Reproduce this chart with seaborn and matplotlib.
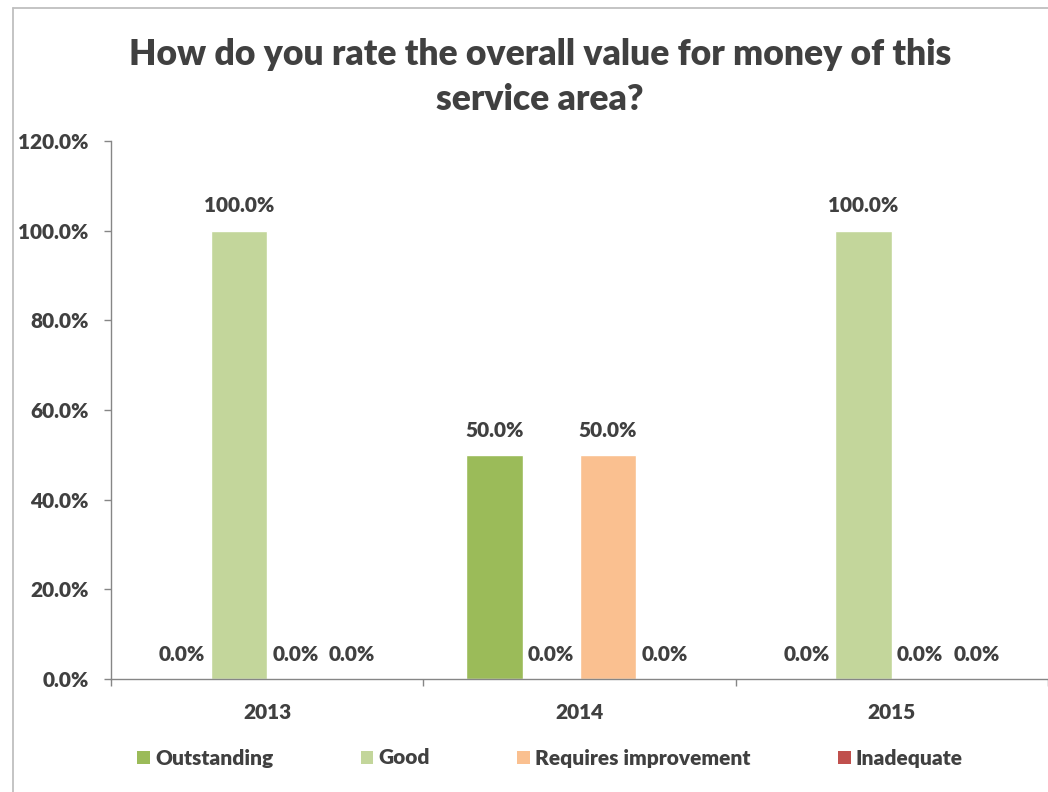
import matplotlib
matplotlib.use("Agg")
import matplotlib.pyplot as plt
from matplotlib.patches import Patch
from matplotlib.ticker import FixedLocator
from matplotlib.lines import Line2D
import pandas as pd
import seaborn as sns

# Survey results per year (percent of respondents)
years = ["2013", "2014", "2015"]
ratings = ["Outstanding", "Good", "Requires improvement", "Inadequate"]
outstanding = [0.0, 50.0, 0.0]
good = [100.0, 0.0, 100.0]
requires_improvement = [0.0, 50.0, 0.0]
inadequate = [0.0, 0.0, 0.0]
y_ticks = [0, 20, 40, 60, 80, 100, 120]

colors = ["#9BBB59", "#C3D69B", "#FAC090", "#C0504D"]
text_color = "#404040"
axis_color = "#868686"
WEIGHT = "heavy"
FS = 15

sns.set_theme(style="white")
plt.rcParams["font.family"] = ["Lato", "DejaVu Sans"]
plt.rcParams["font.weight"] = WEIGHT

series = [outstanding, good, requires_improvement, inadequate]
df = pd.DataFrame(
    [(y, r, vals[i]) for r, vals in zip(ratings, series) for i, y in enumerate(years)],
    columns=["year", "rating", "value"],
)

W, H = 1048, 792
fig = plt.figure(figsize=(W / 100, H / 100), dpi=100)
ax = fig.add_axes([111 / W, 1 - 679 / H, (W - 111) / W, (679 - 141) / H])

sns.barplot(
    data=df, x="year", y="value", hue="rating", hue_order=ratings, order=years,
    palette=colors, width=0.725, gap=0, saturation=1, ax=ax, legend=False,
    errorbar=None,
)

for cont in ax.containers:
    vals = [b.get_height() for b in cont]
    ax.bar_label(cont, labels=[f"{v:.1f}%" for v in vals], padding=11,
                 fontsize=FS, fontweight=WEIGHT, color=text_color)

ax.set_xlim(-0.5, 2.5)
ax.set_ylim(0, 120)
ax.set_yticks(y_ticks)
ax.set_yticklabels([f"{v:.1f}%" for v in y_ticks])
ax.set_xlabel("")
ax.set_ylabel("")

for s in ["top", "right"]:
    ax.spines[s].set_visible(False)
for s in ["left", "bottom"]:
    ax.spines[s].set_color(axis_color)
    ax.spines[s].set_linewidth(1.0)

ax.tick_params(axis="y", direction="out", length=5, width=1.0, color=axis_color,
               pad=11, labelsize=FS, labelcolor=text_color, left=True)
ax.tick_params(axis="x", which="major", length=0, pad=17, labelsize=FS,
               labelcolor=text_color, bottom=True)
ax.xaxis.set_minor_locator(FixedLocator([-0.5, 0.5, 1.5, 2.5]))
ax.tick_params(axis="x", which="minor", direction="out", length=5, width=1.0,
               color=axis_color, bottom=True)
for lbl in ax.get_xticklabels() + ax.get_yticklabels():
    lbl.set_fontweight(WEIGHT)

fig.text(540 / W, 1 - 77 / H,
         "How do you rate the overall value for money of this\nservice area?",
         ha="center", va="center", fontsize=25.6, fontweight=WEIGHT,
         color=text_color, linespacing=1.45)

handles = [Patch(facecolor=c, edgecolor="none") for c in colors]
fig.legend(handles, ratings, loc="center", bbox_to_anchor=(550 / W, 1 - 758 / H),
           ncol=4, frameon=False, handlelength=0.6,
           handleheight=0.6, handletextpad=0.25, columnspacing=4.2,
           prop={"weight": WEIGHT, "size": FS})
for t in fig.legends[0].get_texts():
    t.set_color(text_color)

# Chart frame
frame_color = "#BFBFBF"
fig.add_artist(Line2D([12.5 / W, 12.5 / W], [0, 1 - 7.5 / H],
                      transform=fig.transFigure, color=frame_color, lw=1.3))
fig.add_artist(Line2D([12.5 / W, 1], [1 - 7.5 / H, 1 - 7.5 / H],
                      transform=fig.transFigure, color=frame_color, lw=1.3))

fig.savefig("out.png", dpi=100)
